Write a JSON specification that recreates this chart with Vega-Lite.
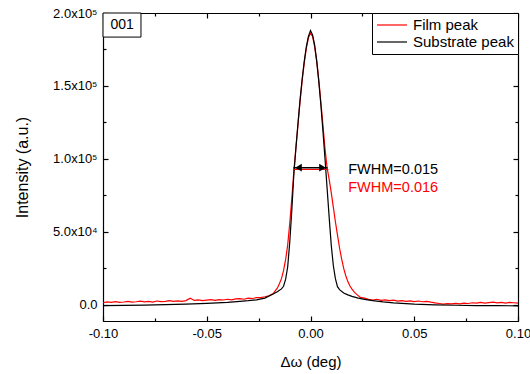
{
  "$schema": "https://vega.github.io/schema/vega-lite/v6.json",
  "width": 415,
  "height": 308,
  "autosize": "none",
  "padding": {"left": 103, "top": 13, "right": 12, "bottom": 53},
  "background": "white",
  "config": {
    "view": {"stroke": "black", "strokeWidth": 1},
    "font": "Liberation Sans",
    "axis": {"domainColor": "black", "domainWidth": 1.2, "tickColor": "black", "tickWidth": 1.2, "labelColor": "black", "titleColor": "black", "grid": false, "labelFont": "Liberation Sans", "titleFont": "Liberation Sans", "labelFontSize": 13, "titleFontWeight": "normal"}
  },
  "datasets": {
    "curves": [
      {"x": -0.100, "y": 1500, "s": "Film peak"}, {"x": -0.098, "y": 2100, "s": "Film peak"}, {"x": -0.096, "y": 1700, "s": "Film peak"}, {"x": -0.094, "y": 2300, "s": "Film peak"}, {"x": -0.092, "y": 1800, "s": "Film peak"}, {"x": -0.090, "y": 2000, "s": "Film peak"}, {"x": -0.088, "y": 2500, "s": "Film peak"}, {"x": -0.086, "y": 1900, "s": "Film peak"}, {"x": -0.084, "y": 2200, "s": "Film peak"}, {"x": -0.082, "y": 2600, "s": "Film peak"}, {"x": -0.080, "y": 2100, "s": "Film peak"}, {"x": -0.078, "y": 2400, "s": "Film peak"}, {"x": -0.076, "y": 2000, "s": "Film peak"}, {"x": -0.074, "y": 2700, "s": "Film peak"}, {"x": -0.072, "y": 2300, "s": "Film peak"}, {"x": -0.070, "y": 2500, "s": "Film peak"}, {"x": -0.068, "y": 2900, "s": "Film peak"}, {"x": -0.066, "y": 2400, "s": "Film peak"}, {"x": -0.064, "y": 2800, "s": "Film peak"}, {"x": -0.062, "y": 2500, "s": "Film peak"}, {"x": -0.060, "y": 3000, "s": "Film peak"}, {"x": -0.058, "y": 4600, "s": "Film peak"}, {"x": -0.056, "y": 3100, "s": "Film peak"}, {"x": -0.054, "y": 3400, "s": "Film peak"}, {"x": -0.052, "y": 2900, "s": "Film peak"}, {"x": -0.050, "y": 3300, "s": "Film peak"}, {"x": -0.048, "y": 3600, "s": "Film peak"}, {"x": -0.046, "y": 3200, "s": "Film peak"}, {"x": -0.044, "y": 3700, "s": "Film peak"}, {"x": -0.042, "y": 3400, "s": "Film peak"}, {"x": -0.040, "y": 3900, "s": "Film peak"}, {"x": -0.038, "y": 3500, "s": "Film peak"}, {"x": -0.036, "y": 4100, "s": "Film peak"}, {"x": -0.034, "y": 4300, "s": "Film peak"}, {"x": -0.032, "y": 3900, "s": "Film peak"}, {"x": -0.030, "y": 4600, "s": "Film peak"}, {"x": -0.028, "y": 4400, "s": "Film peak"}, {"x": -0.026, "y": 5000, "s": "Film peak"}, {"x": -0.024, "y": 5000, "s": "Film peak"}, {"x": -0.022, "y": 5600, "s": "Film peak"}, {"x": -0.020, "y": 6300, "s": "Film peak"}, {"x": -0.018, "y": 7800, "s": "Film peak"}, {"x": -0.016, "y": 11500, "s": "Film peak"}, {"x": -0.015, "y": 14500, "s": "Film peak"}, {"x": -0.014, "y": 18000, "s": "Film peak"}, {"x": -0.013, "y": 23500, "s": "Film peak"}, {"x": -0.012, "y": 31000, "s": "Film peak"}, {"x": -0.011, "y": 41000, "s": "Film peak"}, {"x": -0.010, "y": 56000, "s": "Film peak"}, {"x": -0.009, "y": 73000, "s": "Film peak"}, {"x": -0.008, "y": 92000, "s": "Film peak"}, {"x": -0.007, "y": 108000, "s": "Film peak"}, {"x": -0.006, "y": 124000, "s": "Film peak"}, {"x": -0.005, "y": 140000, "s": "Film peak"}, {"x": -0.004, "y": 154000, "s": "Film peak"}, {"x": -0.003, "y": 166000, "s": "Film peak"}, {"x": -0.002, "y": 176000, "s": "Film peak"}, {"x": -0.001, "y": 183000, "s": "Film peak"}, {"x": 0.000, "y": 186000, "s": "Film peak"}, {"x": 0.001, "y": 184000, "s": "Film peak"}, {"x": 0.002, "y": 177000, "s": "Film peak"}, {"x": 0.003, "y": 167000, "s": "Film peak"}, {"x": 0.004, "y": 154000, "s": "Film peak"}, {"x": 0.005, "y": 139000, "s": "Film peak"}, {"x": 0.006, "y": 123000, "s": "Film peak"}, {"x": 0.007, "y": 107000, "s": "Film peak"}, {"x": 0.008, "y": 94000, "s": "Film peak"}, {"x": 0.009, "y": 86000, "s": "Film peak"}, {"x": 0.010, "y": 77000, "s": "Film peak"}, {"x": 0.011, "y": 67000, "s": "Film peak"}, {"x": 0.012, "y": 57000, "s": "Film peak"}, {"x": 0.013, "y": 48000, "s": "Film peak"}, {"x": 0.014, "y": 39000, "s": "Film peak"}, {"x": 0.015, "y": 31500, "s": "Film peak"}, {"x": 0.016, "y": 25000, "s": "Film peak"}, {"x": 0.017, "y": 20000, "s": "Film peak"}, {"x": 0.018, "y": 16000, "s": "Film peak"}, {"x": 0.019, "y": 13000, "s": "Film peak"}, {"x": 0.020, "y": 10800, "s": "Film peak"}, {"x": 0.021, "y": 9000, "s": "Film peak"}, {"x": 0.022, "y": 7600, "s": "Film peak"}, {"x": 0.024, "y": 5200, "s": "Film peak"}, {"x": 0.026, "y": 4700, "s": "Film peak"}, {"x": 0.028, "y": 3800, "s": "Film peak"}, {"x": 0.030, "y": 3400, "s": "Film peak"}, {"x": 0.032, "y": 3900, "s": "Film peak"}, {"x": 0.034, "y": 3100, "s": "Film peak"}, {"x": 0.036, "y": 3500, "s": "Film peak"}, {"x": 0.038, "y": 2900, "s": "Film peak"}, {"x": 0.040, "y": 3300, "s": "Film peak"}, {"x": 0.042, "y": 2600, "s": "Film peak"}, {"x": 0.044, "y": 3000, "s": "Film peak"}, {"x": 0.046, "y": 2500, "s": "Film peak"}, {"x": 0.048, "y": 2800, "s": "Film peak"}, {"x": 0.050, "y": 2300, "s": "Film peak"}, {"x": 0.052, "y": 2700, "s": "Film peak"}, {"x": 0.054, "y": 2200, "s": "Film peak"}, {"x": 0.056, "y": 2500, "s": "Film peak"}, {"x": 0.058, "y": 1900, "s": "Film peak"}, {"x": 0.060, "y": 1400, "s": "Film peak"}, {"x": 0.062, "y": 1000, "s": "Film peak"}, {"x": 0.064, "y": 600, "s": "Film peak"}, {"x": 0.066, "y": 900, "s": "Film peak"}, {"x": 0.068, "y": 700, "s": "Film peak"}, {"x": 0.070, "y": 1100, "s": "Film peak"}, {"x": 0.072, "y": 800, "s": "Film peak"}, {"x": 0.074, "y": 1300, "s": "Film peak"}, {"x": 0.076, "y": 1000, "s": "Film peak"}, {"x": 0.078, "y": 1500, "s": "Film peak"}, {"x": 0.080, "y": 1200, "s": "Film peak"}, {"x": 0.082, "y": 1700, "s": "Film peak"}, {"x": 0.084, "y": 1300, "s": "Film peak"}, {"x": 0.086, "y": 1600, "s": "Film peak"}, {"x": 0.088, "y": 1900, "s": "Film peak"}, {"x": 0.090, "y": 1400, "s": "Film peak"}, {"x": 0.092, "y": 1700, "s": "Film peak"}, {"x": 0.094, "y": 1300, "s": "Film peak"}, {"x": 0.096, "y": 1800, "s": "Film peak"}, {"x": 0.098, "y": 1500, "s": "Film peak"}, {"x": 0.100, "y": 1200, "s": "Film peak"},
      {"x": -0.100, "y": -500, "s": "Substrate peak"}, {"x": -0.090, "y": -300, "s": "Substrate peak"}, {"x": -0.080, "y": -100, "s": "Substrate peak"}, {"x": -0.070, "y": 200, "s": "Substrate peak"}, {"x": -0.060, "y": 600, "s": "Substrate peak"}, {"x": -0.050, "y": 1100, "s": "Substrate peak"}, {"x": -0.040, "y": 1800, "s": "Substrate peak"}, {"x": -0.034, "y": 2500, "s": "Substrate peak"}, {"x": -0.030, "y": 2900, "s": "Substrate peak"}, {"x": -0.026, "y": 3500, "s": "Substrate peak"}, {"x": -0.022, "y": 4700, "s": "Substrate peak"}, {"x": -0.018, "y": 7500, "s": "Substrate peak"}, {"x": -0.016, "y": 9000, "s": "Substrate peak"}, {"x": -0.014, "y": 11000, "s": "Substrate peak"}, {"x": -0.013, "y": 12800, "s": "Substrate peak"}, {"x": -0.012, "y": 17500, "s": "Substrate peak"}, {"x": -0.011, "y": 26000, "s": "Substrate peak"}, {"x": -0.010, "y": 43000, "s": "Substrate peak"}, {"x": -0.009, "y": 65000, "s": "Substrate peak"}, {"x": -0.008, "y": 90000, "s": "Substrate peak"}, {"x": -0.007, "y": 108000, "s": "Substrate peak"}, {"x": -0.006, "y": 125000, "s": "Substrate peak"}, {"x": -0.005, "y": 141000, "s": "Substrate peak"}, {"x": -0.004, "y": 155000, "s": "Substrate peak"}, {"x": -0.003, "y": 167000, "s": "Substrate peak"}, {"x": -0.002, "y": 177000, "s": "Substrate peak"}, {"x": -0.001, "y": 184000, "s": "Substrate peak"}, {"x": 0.000, "y": 188000, "s": "Substrate peak"}, {"x": 0.001, "y": 185000, "s": "Substrate peak"}, {"x": 0.002, "y": 178000, "s": "Substrate peak"}, {"x": 0.003, "y": 167000, "s": "Substrate peak"}, {"x": 0.004, "y": 153000, "s": "Substrate peak"}, {"x": 0.005, "y": 137000, "s": "Substrate peak"}, {"x": 0.006, "y": 119000, "s": "Substrate peak"}, {"x": 0.007, "y": 100000, "s": "Substrate peak"}, {"x": 0.008, "y": 80000, "s": "Substrate peak"}, {"x": 0.009, "y": 60000, "s": "Substrate peak"}, {"x": 0.010, "y": 41000, "s": "Substrate peak"}, {"x": 0.011, "y": 27000, "s": "Substrate peak"}, {"x": 0.012, "y": 18000, "s": "Substrate peak"}, {"x": 0.013, "y": 12500, "s": "Substrate peak"}, {"x": 0.014, "y": 10500, "s": "Substrate peak"}, {"x": 0.016, "y": 8200, "s": "Substrate peak"}, {"x": 0.018, "y": 6900, "s": "Substrate peak"}, {"x": 0.020, "y": 5900, "s": "Substrate peak"}, {"x": 0.023, "y": 4700, "s": "Substrate peak"}, {"x": 0.026, "y": 3800, "s": "Substrate peak"}, {"x": 0.030, "y": 3000, "s": "Substrate peak"}, {"x": 0.035, "y": 2100, "s": "Substrate peak"}, {"x": 0.040, "y": 1400, "s": "Substrate peak"}, {"x": 0.050, "y": 500, "s": "Substrate peak"}, {"x": 0.060, "y": 0, "s": "Substrate peak"}, {"x": 0.070, "y": -200, "s": "Substrate peak"}, {"x": 0.080, "y": -400, "s": "Substrate peak"}, {"x": 0.090, "y": -500, "s": "Substrate peak"}, {"x": 0.100, "y": -600, "s": "Substrate peak"}
    ]
  },
  "resolve": {"axis": {"x": "independent", "y": "independent"}},
  "layer": [
    {
      "data": {"name": "curves"},
      "mark": {"type": "line", "strokeWidth": 1.2},
      "encoding": {
        "x": {
          "field": "x", "type": "quantitative",
          "scale": {"domain": [-0.1, 0.1], "nice": false, "zero": false},
          "axis": {
            "orient": "bottom",
            "values": [-0.1, -0.075, -0.05, -0.025, 0, 0.025, 0.05, 0.075, 0.1],
            "labelExpr": "datum.value < -0.09 ? '-0.10' : (datum.value > -0.06 && datum.value < -0.04) ? '-0.05' : abs(datum.value) < 0.001 ? '0.00' : (datum.value > 0.04 && datum.value < 0.06) ? '0.05' : datum.value > 0.09 ? '0.10' : ''",
            "tickSize": {"condition": {"test": "abs(datum.value*20 - round(datum.value*20)) > 0.01", "value": -3}, "value": -5},
            "labelPadding": 11,
            "labelFlush": false,
            "labelOverlap": false,
            "title": "Δω (deg)",
            "titleFontSize": 15,
            "titlePadding": 12
          }
        },
        "y": {
          "field": "y", "type": "quantitative",
          "scale": {"domain": [-11000, 200000], "nice": false, "zero": false},
          "axis": {
            "orient": "left",
            "values": [0, 25000, 50000, 75000, 100000, 125000, 150000, 175000, 200000],
            "labelExpr": "datum.value == 0 ? '0.0' : datum.value == 50000 ? '5.0x10⁴' : datum.value == 100000 ? '1.0x10⁵' : datum.value == 150000 ? '1.5x10⁵' : datum.value == 200000 ? '2.0x10⁵' : ''",
            "tickSize": {"condition": {"test": "datum.value % 50000 != 0", "value": -3}, "value": -5},
            "labelPadding": 11,
            "labelOverlap": false,
            "labelFlush": false,
            "title": "Intensity (a.u.)",
            "titleFontSize": 16,
            "titlePadding": 22
          }
        },
        "color": {
          "field": "s", "type": "nominal",
          "scale": {"domain": ["Film peak", "Substrate peak"], "range": ["#ff0000", "#000000"]},
          "legend": {
            "orient": "top-right", "offset": 0, "title": null, "padding": 4,
            "strokeColor": "black", "fillColor": "white", "cornerRadius": 0,
            "symbolType": "stroke", "symbolSize": 900, "symbolStrokeWidth": 1.2,
            "clipHeight": 16, "rowPadding": 1, "labelOffset": 5,
            "labelFontSize": 15, "labelFont": "Liberation Sans", "labelColor": "black"
          }
        }
      }
    },
    {
      "data": {"values": [{"x": -0.1, "x2": -0.0817, "y": 200000, "y2": 183500}]},
      "mark": {"type": "rect", "fill": "white", "stroke": "black", "strokeWidth": 1},
      "encoding": {
        "x": {
          "field": "x", "type": "quantitative",
          "axis": {
            "orient": "top", "labels": false, "title": null,
            "values": [-0.1, -0.075, -0.05, -0.025, 0, 0.025, 0.05, 0.075, 0.1],
            "tickSize": {"condition": {"test": "abs(datum.value*20 - round(datum.value*20)) > 0.01", "value": -3}, "value": -5}
          }
        },
        "x2": {"field": "x2"},
        "y": {
          "field": "y", "type": "quantitative",
          "axis": {
            "orient": "right", "labels": false, "title": null,
            "values": [0, 25000, 50000, 75000, 100000, 125000, 150000, 175000, 200000],
            "tickSize": {"condition": {"test": "datum.value % 50000 != 0", "value": -3}, "value": -5}
          }
        },
        "y2": {"field": "y2"}
      }
    },
    {
      "data": {"values": [{"x": -0.0908, "y": 191700, "label": "001"}]},
      "mark": {"type": "text", "fontSize": 14, "align": "center", "baseline": "middle", "color": "black", "font": "Liberation Sans"},
      "encoding": {
        "x": {"field": "x", "type": "quantitative", "axis": null},
        "y": {"field": "y", "type": "quantitative", "axis": null},
        "text": {"field": "label"}
      }
    },
    {
      "data": {"values": [{"x": -0.0082, "x2": 0.0086, "y": 92800}]},
      "mark": {"type": "rule", "color": "#ff0000", "strokeWidth": 1},
      "encoding": {
        "x": {"field": "x", "type": "quantitative", "axis": null},
        "x2": {"field": "x2"},
        "y": {"field": "y", "type": "quantitative", "axis": null}
      }
    },
    {
      "data": {"values": [{"x": -0.0082, "x2": 0.0082, "y": 94000}]},
      "mark": {"type": "rule", "color": "black", "strokeWidth": 1.5},
      "encoding": {
        "x": {"field": "x", "type": "quantitative", "axis": null},
        "x2": {"field": "x2"},
        "y": {"field": "y", "type": "quantitative", "axis": null}
      }
    },
    {
      "data": {"values": [{"x": -0.0058, "y": 94000, "side": "left"}, {"x": 0.0058, "y": 94000, "side": "right"}]},
      "mark": {"type": "point", "filled": true, "color": "black", "size": 60, "opacity": 1},
      "encoding": {
        "x": {"field": "x", "type": "quantitative", "axis": null},
        "y": {"field": "y", "type": "quantitative", "axis": null},
        "shape": {"field": "side", "type": "nominal", "scale": {"domain": ["left", "right"], "range": ["triangle-left", "triangle-right"]}, "legend": null}
      }
    },
    {
      "data": {"values": [{"x": 0.0182, "y": 92500, "label": "FWHM=0.015"}]},
      "mark": {"type": "text", "fontSize": 14.5, "align": "left", "baseline": "middle", "color": "black", "font": "Liberation Sans"},
      "encoding": {
        "x": {"field": "x", "type": "quantitative", "axis": null},
        "y": {"field": "y", "type": "quantitative", "axis": null},
        "text": {"field": "label"}
      }
    },
    {
      "data": {"values": [{"x": 0.0182, "y": 80300, "label": "FWHM=0.016"}]},
      "mark": {"type": "text", "fontSize": 14.5, "align": "left", "baseline": "middle", "color": "#ff0000", "font": "Liberation Sans"},
      "encoding": {
        "x": {"field": "x", "type": "quantitative", "axis": null},
        "y": {"field": "y", "type": "quantitative", "axis": null},
        "text": {"field": "label"}
      }
    }
  ]
}
